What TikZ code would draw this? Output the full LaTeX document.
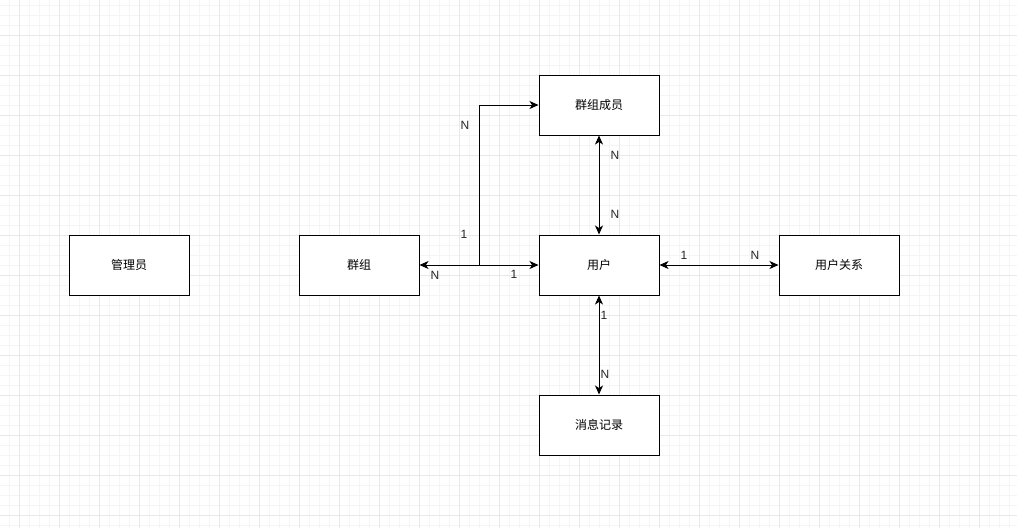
\documentclass[tikz,border=0pt]{standalone}
\usepackage{fontspec}
\setmainfont{Liberation Sans}
\newfontfamily\cjk{Noto Sans CJK SC}
\usetikzlibrary{arrows.meta}
\tikzset{
  entity/.style={draw=black, line width=1pt, fill=white, minimum width=120pt, minimum height=60pt, inner sep=0pt, font=\cjk\fontsize{12}{14}\selectfont},
  rel/.style={line width=1pt, {Stealth[length=9pt,width=8pt,inset=2.5pt]}-{Stealth[length=9pt,width=8pt,inset=2.5pt]}},
  relone/.style={line width=1pt, -{Stealth[length=9pt,width=8pt,inset=2.5pt]}},
  card/.style={font=\fontsize{12}{14}\selectfont, inner sep=0pt, text=black!85},
  minorgrid/.style={draw=black!4, line width=1pt},
  majorgrid/.style={draw=black!9, line width=1pt}
}
\begin{document}
\begin{tikzpicture}[x=1pt,y=-1pt]
\useasboundingbox (0,0) rectangle (1017,528);
\fill[white] (0,0) rectangle (1017,528);
% grid
\foreach \x in {-0.5,9.5,...,1017} \draw[minorgrid] (\x,0) -- (\x,528);
\foreach \y in {5,15,...,528} \draw[minorgrid] (0,\y) -- (1017,\y);
\foreach \x in {19.5,59.5,...,1017} \draw[majorgrid] (\x,0) -- (\x,528);
\foreach \y in {35,75,...,528} \draw[majorgrid] (0,\y) -- (1017,\y);
% entities
\node[entity] (admin) at (129,265) {管理员};
\node[entity] (group) at (359,265) {群组};
\node[entity] (user) at (599,265) {用户};
\node[entity] (rel) at (839,265) {用户关系};
\node[entity] (member) at (599,105) {群组成员};
\node[entity] (msg) at (599,425) {消息记录};
% connectors
\draw[rel] (group.east) -- (user.west);
\coordinate (j) at (479,265);
\draw[relone] (j) |- (member.west);
\draw[rel] (member.south) -- (user.north);
\draw[rel] (user.east) -- (rel.west);
\draw[rel] (user.south) -- (msg.north);
% cardinalities
\node[card] (c1) at (435,275) {N};
\node[card] (c2) at (514,274) {1};
\node[card] (c3) at (465,125) {N};
\node[card] (c4) at (464,234) {1};
\node[card] (c5) at (615,155) {N};
\node[card] (c6) at (615,214) {N};
\node[card] (c7) at (684,255) {1};
\node[card] (c8) at (755,255) {N};
\node[card] (c9) at (604,315) {1};
\node[card] (c10) at (605,374) {N};
\end{tikzpicture}
\end{document}
